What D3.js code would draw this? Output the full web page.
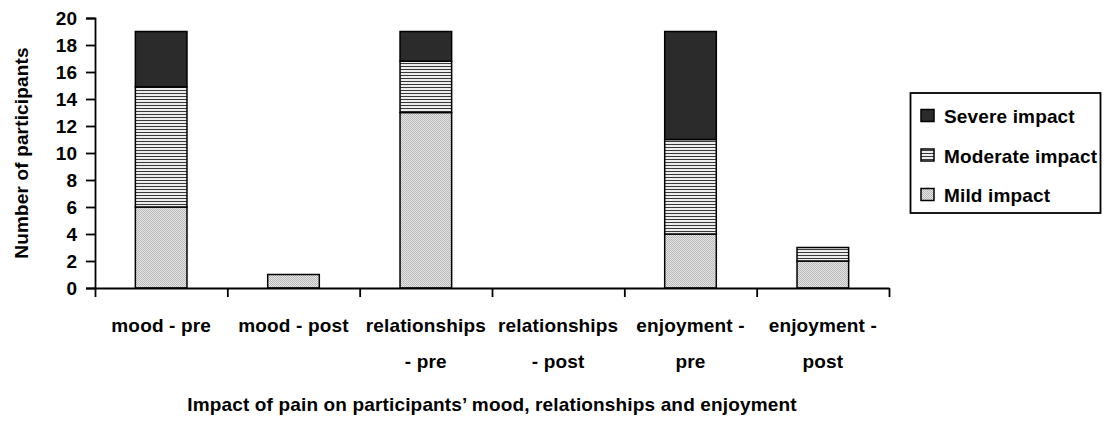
<!DOCTYPE html>
<html>
<head>
<meta charset="utf-8">
<script src="https://cdn.jsdelivr.net/npm/d3@7/dist/d3.min.js"></script>
<style>
  html, body { margin: 0; padding: 0; background: #fff; }
  svg text { font-family: "Liberation Sans", Arial, sans-serif; font-weight: bold; fill: #000; }
</style>
</head>
<body>
<svg id="chart" width="1112" height="427"></svg>
<script>
// ---- data ----
const categories = ["mood - pre", "mood - post", "relationships - pre", "relationships - post", "enjoyment - pre", "enjoyment - post"];
const seriesNames = ["Mild impact", "Moderate impact", "Severe impact"];
const mild     = [6, 1, 13, 0, 4, 2];
const moderate = [8.9, 0, 3.8, 0, 7, 1];
const severe   = [4.1, 0, 2.2, 0, 8, 0];
const yTicks = [0, 2, 4, 6, 8, 10, 12, 14, 16, 18, 20];
const yTitle = "Number of participants";
const xTitle = "Impact of pain on participants\u2019 mood, relationships and enjoyment";

(function () {
// ---- layout ----
const svg = d3.select("#chart");
const pLeft = 95, pRight = 889, pTop = 18, pBottom = 288;
const FS = "19px";
const LS = "0.15px";

const defs = svg.append("defs");
// mild: fine dotted gray
const pm = defs.append("pattern").attr("id", "pMild").attr("patternUnits", "userSpaceOnUse")
  .attr("width", 2).attr("height", 2);
pm.append("rect").attr("width", 2).attr("height", 2).attr("fill", "#e6e6e6");
pm.append("rect").attr("width", 1).attr("height", 1).attr("fill", "#b8b8b8");
pm.append("rect").attr("x", 1).attr("y", 1).attr("width", 1).attr("height", 1).attr("fill", "#b8b8b8");
// moderate: horizontal stripes
const pmod = defs.append("pattern").attr("id", "pMod").attr("patternUnits", "userSpaceOnUse")
  .attr("width", 4).attr("height", 3);
pmod.append("rect").attr("width", 4).attr("height", 3).attr("fill", "#ececec");
pmod.append("rect").attr("y", 0).attr("width", 4).attr("height", 1).attr("fill", "#3a3a3a");

const fills = { "Mild impact": "url(#pMild)", "Moderate impact": "url(#pMod)", "Severe impact": "#2b2b2b" };

const x = d3.scaleBand().domain(categories).range([pLeft, pRight]).paddingInner(0.61).paddingOuter(0.305);
const slot = d3.scaleLinear().domain([0, categories.length]).range([pLeft, pRight]);
const y = d3.scaleLinear().domain([0, 20]).range([pBottom, pTop]);

const rows = categories.map((c, i) => ({ cat: c, "Mild impact": mild[i], "Moderate impact": moderate[i], "Severe impact": severe[i] }));
const stacked = d3.stack().keys(seriesNames)(rows);

// bars
const g = svg.append("g");
stacked.forEach(s => {
  g.append("g").selectAll("rect")
    .data(s.filter(d => d[1] - d[0] > 0))
    .join("rect")
    .attr("x", d => x(d.data.cat))
    .attr("width", x.bandwidth())
    .attr("y", d => y(d[1]))
    .attr("height", d => y(d[0]) - y(d[1]))
    .attr("fill", fills[s.key])
    .attr("stroke", "#000")
    .attr("stroke-width", 1.5);
});

// y axis
const ya = svg.append("g").attr("transform", `translate(${pLeft},0)`)
  .call(d3.axisLeft(y).tickValues(yTicks).tickSize(9).tickPadding(9));
ya.select(".domain").attr("stroke", "#000").attr("stroke-width", 1.8);
ya.selectAll(".tick line").attr("stroke", "#000").attr("stroke-width", 1.8);
ya.selectAll(".tick text").style("font-size", FS).style("font-family", "Liberation Sans, Arial, sans-serif")
  .style("font-weight", "bold").attr("fill", "#000");

// x axis (boundary ticks)
const xa = svg.append("g").attr("transform", `translate(0,${pBottom})`)
  .call(d3.axisBottom(slot).tickValues(d3.range(categories.length + 1)).tickSize(9).tickSizeOuter(0).tickFormat(""));
xa.select(".domain").attr("stroke", "#000").attr("stroke-width", 1.8);
xa.selectAll(".tick line").attr("stroke", "#000").attr("stroke-width", 1.8);

// x category labels with wrapping
const maxW = 126;
categories.forEach((c, i) => {
  const cx = x(c) + x.bandwidth() / 2;
  const t = svg.append("text").attr("x", cx).attr("y", 332).attr("text-anchor", "middle")
    .style("font-size", FS).style("letter-spacing", LS);
  const words = c.split(" ");
  let lines = [], cur = [];
  const probe = svg.append("text").style("font-size", FS).style("letter-spacing", LS);
  words.forEach(w => {
    const test = cur.concat([w]).join(" ");
    probe.text(test);
    if (cur.length && probe.node().getComputedTextLength() > maxW) {
      lines.push(cur.join(" "));
      cur = [w];
    } else cur.push(w);
  });
  lines.push(cur.join(" "));
  probe.remove();
  lines.forEach((ln, k) => {
    t.append("tspan").attr("x", cx).attr("y", 332 + k * 35.5).text(ln);
  });
});

// axis titles
svg.append("text").attr("x", (pLeft + pRight) / 2).attr("y", 411).attr("text-anchor", "middle")
  .style("font-size", FS).style("letter-spacing", LS).text(xTitle);
svg.append("text").attr("transform", `translate(27.5,${(pTop + pBottom) / 2}) rotate(-90)`)
  .attr("text-anchor", "middle").style("font-size", FS).style("letter-spacing", LS).text(yTitle);

// legend
const lg = svg.append("g");
lg.append("rect").attr("x", 910.5).attr("y", 93).attr("width", 190).attr("height", 120)
  .attr("fill", "#fff").attr("stroke", "#000").attr("stroke-width", 1.8);
const legendOrder = seriesNames.slice().reverse();
legendOrder.forEach((n, i) => {
  const cy = 115.5 + i * 39.5;
  lg.append("rect").attr("x", 921).attr("y", cy - 6).attr("width", 13).attr("height", 12)
    .attr("fill", fills[n]).attr("stroke", "#000").attr("stroke-width", 1.5);
  lg.append("text").attr("x", 944).attr("y", cy + 7.5).style("font-size", FS).style("letter-spacing", LS).text(n);
});
})();
</script>
</body>
</html>
